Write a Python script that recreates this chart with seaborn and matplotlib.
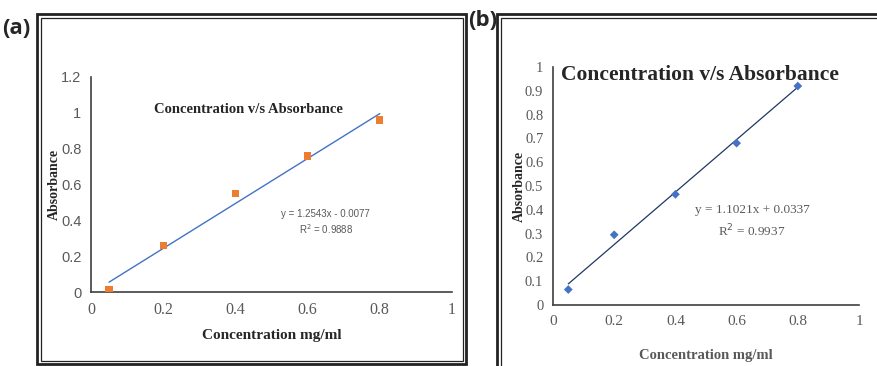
import matplotlib.pyplot as plt
import matplotlib.patches as patches
import seaborn as sns
import pandas as pd
import numpy as np

# data
conc = [0.05, 0.2, 0.4, 0.6, 0.8]
abs_a = [0.015, 0.26, 0.55, 0.76, 0.96]
abs_b = [0.065, 0.295, 0.465, 0.68, 0.92]
fit_a = (1.2543, -0.0077)
fit_b = (1.1021, 0.0337)
yticks_a = [0, 0.2, 0.4, 0.6, 0.8, 1, 1.2]
yticks_b = [0, 0.1, 0.2, 0.3, 0.4, 0.5, 0.6, 0.7, 0.8, 0.9, 1]
xticks = [0, 0.2, 0.4, 0.6, 0.8, 1]

W, H = 877, 366
GREY = "#595959"
SERIF = "Liberation Serif"
SANS = "Liberation Sans"

sns.set_style("white")
fig = plt.figure(figsize=(W / 100, H / 100), dpi=100)


def px_axes(x0, y0, x1, y1):
    return fig.add_axes([x0 / W, 1 - y1 / H, (x1 - x0) / W, (y1 - y0) / H])


def frame(x0, y0, x1, y1):
    # double border: thick outer line, thin inner line
    for (a, b, c, d, lw) in [(x0, y0, x1, y1, 2.0), (x0 + 3.5, y0 + 3.5, x1 - 3.5, y1 - 3.5, 0.9)]:
        fig.patches.append(patches.Rectangle((a / W, 1 - d / H), (c - a) / W, (d - b) / H,
                                             transform=fig.transFigure, fill=False,
                                             edgecolor="#222222", linewidth=lw))


def fmt(v):
    return "0" if v == 0 else ("1" if v == 1 else f"{v:g}")


def style_axes(ax, ylim, yt, tickfont_y, tickfont_x, ysize, xsize):
    ax.set_xlim(0, 1)
    ax.set_ylim(*ylim)
    ax.set_xticks(xticks)
    ax.set_yticks(yt)
    ax.set_xticklabels([fmt(v) for v in xticks], family=tickfont_x, color=GREY, fontsize=xsize)
    ax.set_yticklabels([fmt(v) for v in yt], family=tickfont_y, color=GREY, fontsize=ysize)
    for s in ["top", "right"]:
        ax.spines[s].set_visible(False)
    for s in ["left", "bottom"]:
        ax.spines[s].set_color("#404040")
        ax.spines[s].set_linewidth(1.2)
    ax.tick_params(axis="both", direction="out", length=4, width=1, color="#404040", pad=3)
    ax.set_facecolor("none")
    ax.set_xlabel("")
    ax.set_ylabel("")


# frames
frame(37, 14, 466, 364)
frame(497, 14, 900, 380)

fig.text(2 / W, 1 - 28 / H, "(a)", fontsize=16, fontweight="bold", family="Open Sans", va="center")
fig.text(468 / W, 1 - 21 / H, "(b)", fontsize=16, fontweight="bold", family="Open Sans", va="center")

# panel (a)
ax1 = px_axes(91, 77, 452, 292)
df_a = pd.DataFrame({"x": conc, "y": abs_a})
line_x = [conc[0], conc[-1]]
sns.lineplot(x=line_x, y=[fit_a[0] * v + fit_a[1] for v in line_x], ax=ax1,
             color="#4472C4", linewidth=1.0)
sns.scatterplot(data=df_a, x="x", y="y", ax=ax1, marker="s", s=28,
                color="#ED7D31", edgecolor="none", zorder=3)
style_axes(ax1, (0, 1.2), yticks_a, SANS, SERIF, 10.5, 11.5)
ax1.text(0.435, 1.02, "Concentration v/s Absorbance", transform=ax1.transData,
         family=SERIF, fontweight="bold", fontsize=10.5, ha="center", va="center")
ax1.text(0.65, 0.435, "y = 1.2543x - 0.0077", family=SANS, color=GREY, fontsize=7, ha="center", va="center")
ax1.text(0.65, 0.35, "R$^2$ = 0.9888", family=SANS, color=GREY, fontsize=7, ha="center", va="center")
fig.text(54 / W, 1 - 184 / H, "Absorbance", rotation=90, family=SERIF, fontweight="bold",
         fontsize=10, ha="center", va="center")
fig.text(272 / W, 1 - 335 / H, "Concentration mg/ml", family=SERIF, fontweight="bold",
         fontsize=11, ha="center", va="center")

# panel (b)
ax2 = px_axes(553, 67, 859, 305)
df_b = pd.DataFrame({"x": conc, "y": abs_b})
sns.lineplot(x=line_x, y=[fit_b[0] * v + fit_b[1] for v in line_x], ax=ax2,
             color="#1F3864", linewidth=0.9)
sns.scatterplot(data=df_b, x="x", y="y", ax=ax2, marker="D", s=20,
                color="#4472C4", edgecolor="none", zorder=3)
style_axes(ax2, (0, 1), yticks_b, SERIF, SERIF, 10.5, 11)
fig.text(700 / W, 1 - 75 / H, "Concentration v/s Absorbance", family=SERIF, fontweight="bold",
         fontsize=15.5, ha="center", va="center")
fig.text(752 / W, 1 - 210 / H, "y = 1.1021x + 0.0337", family=SERIF, color=GREY, fontsize=9.5,
         ha="center", va="center")
fig.text(752 / W, 1 - 231 / H, "R$^2$ = 0.9937", family=SERIF, color=GREY, fontsize=9.5,
         ha="center", va="center")
fig.text(519 / W, 1 - 186 / H, "Absorbance", rotation=90, family=SERIF, fontweight="bold",
         fontsize=10, ha="center", va="center")
fig.text(706 / W, 1 - 355 / H, "Concentration mg/ml", family=SERIF, fontweight="bold",
         color=GREY, fontsize=10.5, ha="center", va="center")

fig.savefig("out.png", dpi=100)
